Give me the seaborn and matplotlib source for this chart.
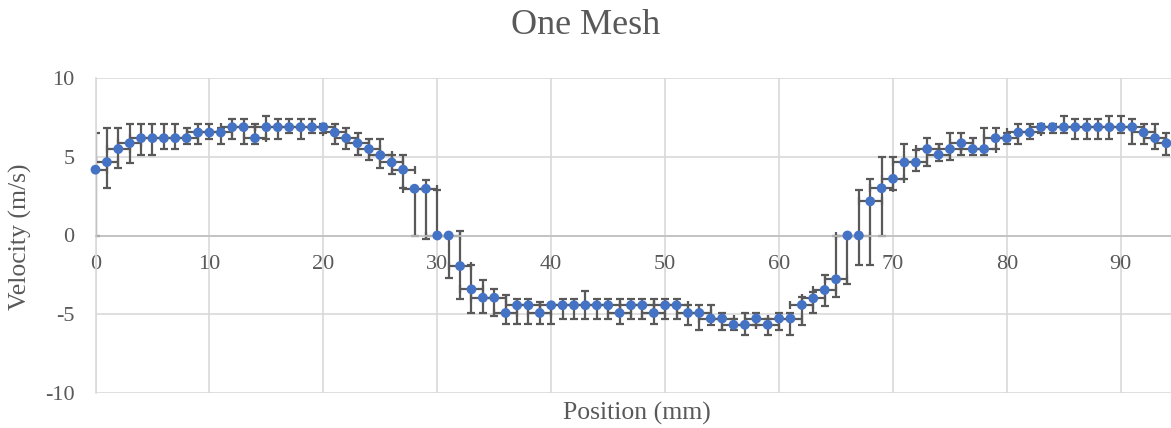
import numpy as np
import pandas as pd
import matplotlib
matplotlib.use("Agg")
import matplotlib.pyplot as plt
import seaborn as sns

# ---- data ----
position = list(range(0, 95))
velocity = [4.18, 4.66, 5.49, 5.86, 6.18, 6.18, 6.18, 6.18, 6.18, 6.54,
            6.54, 6.54, 6.88, 6.88, 6.18, 6.88, 6.88, 6.88, 6.88, 6.88,
            6.88, 6.54, 6.18, 5.86, 5.49, 5.10, 4.64, 4.18, 2.97, 2.97,
            0.00, 0.00, -1.94, -3.42, -3.95, -3.95, -4.92, -4.43, -4.43, -4.92,
            -4.43, -4.43, -4.43, -4.43, -4.43, -4.43, -4.92, -4.43, -4.43, -4.92,
            -4.43, -4.43, -4.92, -4.92, -5.27, -5.27, -5.67, -5.67, -5.27, -5.67,
            -5.27, -5.27, -4.41, -3.99, -3.46, -2.78, 0.00, 0.00, 2.17, 3.00,
            3.60, 4.64, 4.64, 5.49, 5.13, 5.49, 5.86, 5.49, 5.49, 6.18,
            6.18, 6.54, 6.54, 6.88, 6.88, 6.88, 6.88, 6.88, 6.88, 6.88,
            6.88, 6.88, 6.54, 6.18, 5.86]
bar_upper = [6.5, 6.8, 6.8, 7.1, 7.1, 7.1, 7.1, 7.1, 6.8, 7.1,
             7.1, 6.8, 7.4, 7.4, 7.1, 7.6, 7.4, 7.4, 7.4, 7.4,
             7.1, 7.1, 6.8, 6.5, 6.1, 6.1, 5.1, 5.1, 2.97, 3.5,
             2.9, 0.0, 0.3, -1.9, -2.8, -3.4, -3.8, -4.0, -4.0, -4.2,
             -4.43, -4.0, -4.0, -3.5, -4.0, -4.0, -4.0, -4.0, -4.0, -4.0,
             -4.0, -4.0, -4.4, -4.4, -4.4, -4.9, -5.3, -4.9, -4.9, -5.3,
             -4.9, -4.9, -3.9, -3.6, -2.5, 0.0, 0.0, 2.9, 3.6, 5.0,
             5.0, 5.8, 5.4, 6.2, 5.8, 6.5, 6.5, 6.2, 6.8, 6.8,
             6.5, 7.1, 7.1, 7.1, 7.1, 7.6, 7.4, 7.4, 7.4, 7.6,
             7.6, 7.4, 7.1, 7.1, 6.5]
bar_lower = [0.0, 3.0, 4.3, 4.6, 5.1, 5.1, 5.5, 5.5, 5.8, 5.8,
             6.1, 5.8, 6.1, 5.8, 5.8, 6.1, 6.1, 6.5, 6.1, 6.5,
             6.5, 5.8, 5.5, 5.1, 4.8, 4.3, 3.9, 3.0, 0.0, -0.2,
             0.0, -2.7, -4.0, -4.9, -4.9, -5.1, -5.6, -5.6, -5.6, -5.6,
             -5.6, -5.3, -5.3, -5.3, -5.3, -5.3, -5.6, -5.3, -5.3, -5.6,
             -5.3, -5.3, -5.7, -6.0, -5.7, -6.0, -6.0, -6.3, -5.7, -6.3,
             -6.0, -6.3, -5.7, -4.9, -4.5, -3.9, -3.1, -1.9, -1.9, 0.0,
             2.9, 3.6, 4.1, 4.4, 4.7, 4.8, 5.1, 5.1, 5.1, 5.5,
             5.8, 5.8, 6.1, 6.5, 6.5, 6.5, 6.1, 6.1, 6.1, 6.1,
             6.5, 5.8, 5.8, 5.5, 5.1]
position_err = [1.0] * len(position)

x_ticks = [0, 10, 20, 30, 40, 50, 60, 70, 80, 90]
y_ticks = [-10, -5, 0, 5, 10]

df = pd.DataFrame({"Position (mm)": position, "Velocity (m/s)": velocity})
v = np.array(velocity)
yerr = np.vstack([np.clip(v - np.array(bar_lower), 0, None),
                  np.clip(np.array(bar_upper) - v, 0, None)])

sns.set_theme(style="white")
plt.rcParams["font.family"] = ["Liberation Serif", "DejaVu Serif"]

W, H = 1171, 428
fig = plt.figure(figsize=(W / 100, H / 100), dpi=100)
ax = fig.add_axes([95.5 / W, 1 - 393 / H, (W - 95.5) / W, (393 - 78) / H])

grey = "#595959"
grid_c = "#d9d9d9"

ax.errorbar(position, velocity, yerr=yerr, xerr=position_err, fmt="none",
            ecolor=grey, elinewidth=1.6, capsize=3.2, capthick=1.6, zorder=2)
sns.scatterplot(data=df, x="Position (mm)", y="Velocity (m/s)", ax=ax,
                color="#4472C4", s=50, edgecolor="none", zorder=3, legend=False,
                clip_on=False)

ax.set_xlim(0, 94.4)
ax.set_ylim(-10, 10)
ax.set_xticks(x_ticks)
ax.set_yticks(y_ticks)
ax.set_xticklabels([str(t) for t in x_ticks])
ax.set_yticklabels([str(t) for t in y_ticks])
ax.grid(True, color=grid_c, linewidth=1.2)
ax.set_axisbelow(True)
ax.set_xlabel("")
ax.set_ylabel("")

for s in ["top", "right"]:
    ax.spines[s].set_visible(False)
ax.spines["left"].set_color(grid_c)
ax.spines["left"].set_linewidth(1.2)
ax.spines["bottom"].set_position(("data", 0))
ax.spines["bottom"].set_color("#bfbfbf")
ax.spines["bottom"].set_linewidth(1.2)
ax.tick_params(axis="both", length=0, labelsize=16, colors=grey)
ax.tick_params(axis="x", pad=14)
ax.tick_params(axis="y", pad=15)

fig.text(0.5, 1 - 26 / H, "One Mesh", ha="center", va="center",
         fontsize=26, color=grey)
fig.text(637 / W, 1 - 413 / H, "Position (mm)", ha="center", va="center",
         fontsize=18.5, color=grey)
fig.text(20 / W, 1 - 237 / H, "Velocity (m/s)", ha="center", va="center",
         rotation=90, fontsize=18.5, color=grey)

fig.savefig("out.png", dpi=100)
